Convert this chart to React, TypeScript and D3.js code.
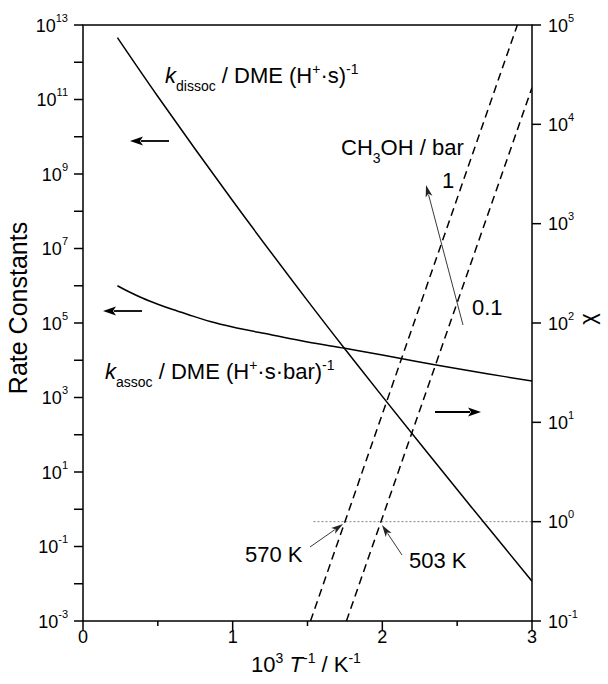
import React from "react";
import * as d3 from "d3";

// ---- data ----
const xMajorTicks = [0, 1, 2, 3];
const xMinorTicks = [0.5, 1.5, 2.5];
const leftMajorExps = [-3, -1, 1, 3, 5, 7, 9, 11, 13];
const leftMinorExps = [-2, 0, 2, 4, 6, 8, 10, 12];
const rightMajorExps = [-1, 0, 1, 2, 3, 4, 5];

const kDissocX = [0.23, 0.5, 1.0, 1.5, 1.75, 2.0, 2.5, 2.674, 3.0];
const kDissocY = [4.57e12, 1.2e11, 1.91e8, 3.98e5, 2.0e4, 1.07e3, 3.39, 0.468, 0.0117];

const kAssocX = [0.23, 0.3, 0.4, 0.5, 0.6, 0.7, 0.85, 1.0, 1.25, 1.5, 1.75, 2.0, 2.35, 2.7, 3.0];
const kAssocY = [1.0e6, 7.1e5, 4.6e5, 3.2e5, 2.3e5, 1.7e5, 1.1e5, 7.8e4, 4.9e4, 3.1e4, 2.09e4, 1.38e4, 7.59e3, 4.37e3, 2.75e3];

const chi1barX = [1.52, 2.902];
const chi1barY = [0.1, 1e5];
const chi01barX = [1.76, 3.0];
const chi01barY = [0.1, 2.34e4];

const unityChiX = [1.54, 3.0];
const unityChiY = [1, 1];

// ---- layout ----
const W = 608, H = 684;
const L = 83, R = 532, T = 25, B = 621;
const FONT = "'Liberation Sans', Arial, Helvetica, sans-serif";

const x = d3.scaleLinear().domain([0, 3]).range([L, R]);
const yL = d3.scaleLog().domain([1e-3, 1e13]).range([B, T]);
const yR = d3.scaleLog().domain([1e-1, 1e5]).range([B, T]);

function Pow({ px, py, exp, anchor }: { px: number; py: number; exp: number; anchor: string }) {
  return (
    <text x={px} y={py + 6.5} textAnchor={anchor} fontSize={18} fontFamily={FONT} fill="#000">
      10
      <tspan fontSize={11} dy={-10}>{exp}</tspan>
    </text>
  );
}

function Arrow({ x1, y1, x2, y2, head, hw, sw, color }: any) {
  const ang = Math.atan2(y2 - y1, x2 - x1);
  const bx = x2 - head * Math.cos(ang), by = y2 - head * Math.sin(ang);
  const nx = -Math.sin(ang) * hw, ny = Math.cos(ang) * hw;
  const lx = x2 - (head - 2) * Math.cos(ang), ly = y2 - (head - 2) * Math.sin(ang);
  return (
    <g>
      <line x1={x1} y1={y1} x2={lx} y2={ly} stroke={color} strokeWidth={sw} />
      <path d={`M${x2},${y2} L${bx + nx},${by + ny} L${bx + 3 * Math.cos(ang)},${by + 3 * Math.sin(ang)} L${bx - nx},${by - ny} Z`} fill={color} />
    </g>
  );
}

export default function App() {
  const lineL = d3.line<[number, number]>().x(d => x(d[0])).y(d => yL(d[1])).curve(d3.curveCatmullRom.alpha(0.5));
  const lineR = d3.line<[number, number]>().x(d => x(d[0])).y(d => yR(d[1]));
  const zip = (a: number[], b: number[]) => a.map((v, i) => [v, b[i]] as [number, number]);

  return (
    <svg width={W} height={H} style={{ position: "absolute", left: 0, top: 0 }}>
      <rect width={W} height={H} fill="#fff" />
      <defs>
        <clipPath id="plot">
          <rect x={L} y={T} width={R - L} height={B - T} />
        </clipPath>
      </defs>

      {/* dotted chi = 1 */}
      <line x1={x(unityChiX[0])} x2={x(unityChiX[1])} y1={yR(unityChiY[0])} y2={yR(unityChiY[1])} stroke="#777" strokeWidth={0.9} strokeDasharray="2,2" />

      <g clipPath="url(#plot)" fill="none">
        <path d={lineL(zip(kDissocX, kDissocY))!} stroke="#000" strokeWidth={1.5} />
        <path d={lineL(zip(kAssocX, kAssocY))!} stroke="#000" strokeWidth={1.5} />
        <path d={lineR(zip(chi1barX, chi1barY))!} stroke="#000" strokeWidth={1.5} strokeDasharray="8,5" />
        <path d={lineR(zip(chi01barX, chi01barY))!} stroke="#000" strokeWidth={1.5} strokeDasharray="8,5" />
      </g>

      {/* frame */}
      <rect x={L} y={T} width={R - L} height={B - T} fill="none" stroke="#000" strokeWidth={1.5} />

      {/* left ticks */}
      {leftMajorExps.concat(leftMinorExps).map(e => (
        <line key={"lt" + e} x1={L - 9} x2={L} y1={yL(Math.pow(10, e))} y2={yL(Math.pow(10, e))} stroke="#000" strokeWidth={1.5} />
      ))}
      {leftMajorExps.map(e => (
        <Pow key={"ll" + e} px={68} py={yL(Math.pow(10, e))} exp={e} anchor="end" />
      ))}

      {/* right ticks */}
      {rightMajorExps.map(e => (
        <g key={"r" + e}>
          <line x1={R} x2={R + 9} y1={yR(Math.pow(10, e))} y2={yR(Math.pow(10, e))} stroke="#000" strokeWidth={1.5} />
          <Pow px={548} py={yR(Math.pow(10, e))} exp={e} anchor="start" />
        </g>
      ))}

      {/* bottom ticks */}
      {xMajorTicks.map(t => (
        <g key={"x" + t}>
          <line x1={x(t)} x2={x(t)} y1={B} y2={B + 9} stroke="#000" strokeWidth={1.5} />
          <text x={x(t)} y={643} textAnchor="middle" fontSize={18} fontFamily={FONT}>{t}</text>
        </g>
      ))}
      {xMinorTicks.map(t => (
        <line key={"xm" + t} x1={x(t)} x2={x(t)} y1={B} y2={B + 5} stroke="#000" strokeWidth={1.5} />
      ))}

      {/* axis titles */}
      <text x={306} y={672} textAnchor="middle" fontSize={22} fontFamily={FONT}>
        10<tspan fontSize={14} dy={-9}>3</tspan>
        <tspan dy={9}> </tspan>
        <tspan fontStyle="italic">T</tspan>
        <tspan fontSize={14} dy={-9}>-1</tspan>
        <tspan dy={9}> / K</tspan>
        <tspan fontSize={14} dy={-9}>-1</tspan>
      </text>
      <text transform="translate(27,308) rotate(-90)" textAnchor="middle" fontSize={25} fontFamily={FONT}>Rate Constants</text>
      <text transform="translate(595,319) rotate(-90)" textAnchor="middle" fontSize={22} fontFamily={FONT}>χ</text>

      {/* annotations */}
      <text x={165} y={83} fontSize={22} fontFamily={FONT}>
        <tspan fontStyle="italic">k</tspan>
        <tspan fontSize={14} dy={8}>dissoc</tspan>
        <tspan dy={-8}> / DME (H</tspan>
        <tspan fontSize={14} dy={-9}>+</tspan>
        <tspan dy={9}>·s)</tspan>
        <tspan fontSize={14} dy={-9}>-1</tspan>
      </text>
      <text x={105} y={379} fontSize={22} fontFamily={FONT}>
        <tspan fontStyle="italic">k</tspan>
        <tspan fontSize={14} dy={8}>assoc</tspan>
        <tspan dy={-8}> / DME (H</tspan>
        <tspan fontSize={14} dy={-9}>+</tspan>
        <tspan dy={9}>·s·bar)</tspan>
        <tspan fontSize={14} dy={-9}>-1</tspan>
      </text>
      <text x={341} y={155} fontSize={22} fontFamily={FONT}>
        CH<tspan fontSize={14} dy={8}>3</tspan>
        <tspan dy={-8}>OH / bar</tspan>
      </text>
      <text x={442} y={188} fontSize={22} fontFamily={FONT}>1</text>
      <text x={472} y={315} fontSize={22} fontFamily={FONT}>0.1</text>
      <text x={245} y={562} fontSize={22} fontFamily={FONT}>570 K</text>
      <text x={409} y={568} fontSize={22} fontFamily={FONT}>503 K</text>

      {/* arrows */}
      <Arrow x1={169} y1={141} x2={130} y2={141} head={13} hw={4.5} sw={1.8} color="#000" />
      <Arrow x1={142} y1={311} x2={103} y2={311} head={13} hw={4.5} sw={1.8} color="#000" />
      <Arrow x1={435} y1={412} x2={481} y2={412} head={13} hw={4.5} sw={1.8} color="#000" />
      <Arrow x1={463} y1={325} x2={426} y2={185} head={12} hw={3.5} sw={0.9} color="#222" />
      <Arrow x1={310} y1={547} x2={343} y2={524} head={12} hw={3.5} sw={0.9} color="#222" />
      <Arrow x1={402} y1={555} x2={382} y2={525} head={12} hw={3.5} sw={0.9} color="#222" />
    </svg>
  );
}
